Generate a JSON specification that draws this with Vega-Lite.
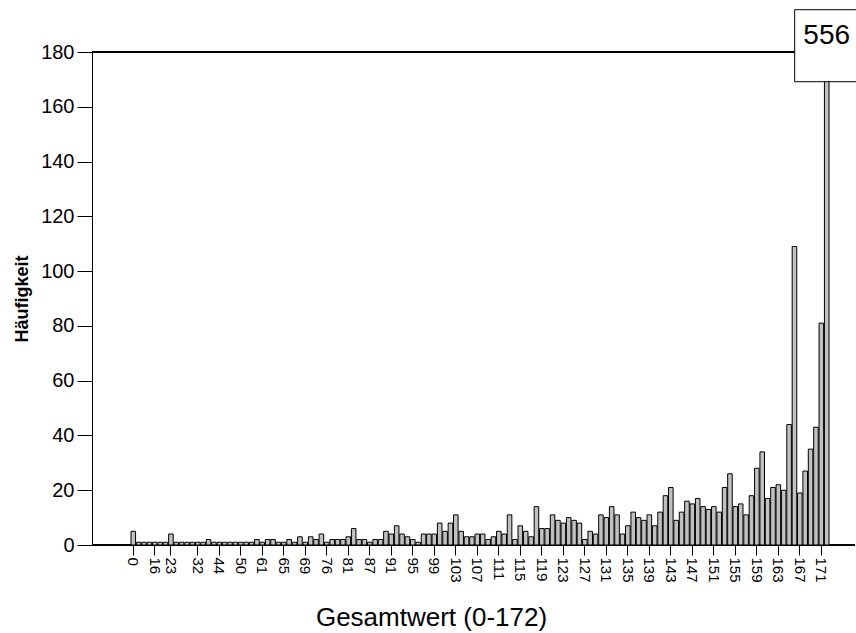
{
  "$schema": "https://vega.github.io/schema/vega-lite/v6.json",
  "width": 763,
  "height": 493,
  "autosize": "none",
  "padding": {"left": 92, "top": 52, "right": 1, "bottom": 88},
  "background": "white",
  "config": {
    "view": {"stroke": null},
    "font": "Liberation Sans",
    "axis": {"domainColor": "black", "tickColor": "black", "labelColor": "black", "titleColor": "black", "grid": false, "labelFont": "Liberation Sans", "titleFont": "Liberation Sans"}
  },
  "data": {
    "values": [
      {"wert": 0, "n": 5}, {"wert": 5, "n": 1}, {"wert": 9, "n": 1}, {"wert": 12, "n": 1},
      {"wert": 16, "n": 1}, {"wert": 19, "n": 1}, {"wert": 21, "n": 1}, {"wert": 23, "n": 4},
      {"wert": 25, "n": 1}, {"wert": 27, "n": 1}, {"wert": 29, "n": 1}, {"wert": 31, "n": 1},
      {"wert": 32, "n": 1}, {"wert": 36, "n": 1}, {"wert": 39, "n": 2}, {"wert": 42, "n": 1},
      {"wert": 44, "n": 1}, {"wert": 46, "n": 1}, {"wert": 47, "n": 1}, {"wert": 49, "n": 1},
      {"wert": 50, "n": 1}, {"wert": 53, "n": 1}, {"wert": 56, "n": 1}, {"wert": 59, "n": 2},
      {"wert": 61, "n": 1}, {"wert": 62, "n": 2}, {"wert": 63, "n": 2}, {"wert": 64, "n": 1},
      {"wert": 65, "n": 1}, {"wert": 66, "n": 2}, {"wert": 67, "n": 1}, {"wert": 68, "n": 3},
      {"wert": 69, "n": 1}, {"wert": 71, "n": 3}, {"wert": 73, "n": 2}, {"wert": 75, "n": 4},
      {"wert": 76, "n": 1}, {"wert": 77, "n": 2}, {"wert": 78, "n": 2}, {"wert": 80, "n": 2},
      {"wert": 81, "n": 3}, {"wert": 82, "n": 6}, {"wert": 84, "n": 2}, {"wert": 86, "n": 2},
      {"wert": 87, "n": 1}, {"wert": 88, "n": 2}, {"wert": 89, "n": 2}, {"wert": 90, "n": 5},
      {"wert": 91, "n": 4}, {"wert": 92, "n": 7}, {"wert": 93, "n": 4}, {"wert": 94, "n": 3},
      {"wert": 95, "n": 2}, {"wert": 96, "n": 1}, {"wert": 97, "n": 4}, {"wert": 98, "n": 4},
      {"wert": 99, "n": 4}, {"wert": 100, "n": 8}, {"wert": 101, "n": 5}, {"wert": 102, "n": 8},
      {"wert": 103, "n": 11}, {"wert": 104, "n": 5}, {"wert": 105, "n": 3}, {"wert": 106, "n": 3},
      {"wert": 107, "n": 4}, {"wert": 108, "n": 4}, {"wert": 109, "n": 2}, {"wert": 110, "n": 3},
      {"wert": 111, "n": 5}, {"wert": 112, "n": 4}, {"wert": 113, "n": 11}, {"wert": 114, "n": 2},
      {"wert": 115, "n": 7}, {"wert": 116, "n": 5}, {"wert": 117, "n": 3}, {"wert": 118, "n": 14},
      {"wert": 119, "n": 6}, {"wert": 120, "n": 6}, {"wert": 121, "n": 11}, {"wert": 122, "n": 9},
      {"wert": 123, "n": 8}, {"wert": 124, "n": 10}, {"wert": 125, "n": 9}, {"wert": 126, "n": 8},
      {"wert": 127, "n": 2}, {"wert": 128, "n": 5}, {"wert": 129, "n": 4}, {"wert": 130, "n": 11},
      {"wert": 131, "n": 10}, {"wert": 132, "n": 14}, {"wert": 133, "n": 11}, {"wert": 134, "n": 4},
      {"wert": 135, "n": 7}, {"wert": 136, "n": 12}, {"wert": 137, "n": 10}, {"wert": 138, "n": 9},
      {"wert": 139, "n": 11}, {"wert": 140, "n": 7}, {"wert": 141, "n": 12}, {"wert": 142, "n": 18},
      {"wert": 143, "n": 21}, {"wert": 144, "n": 9}, {"wert": 145, "n": 12}, {"wert": 146, "n": 16},
      {"wert": 147, "n": 15}, {"wert": 148, "n": 17}, {"wert": 149, "n": 14}, {"wert": 150, "n": 13},
      {"wert": 151, "n": 14}, {"wert": 152, "n": 12}, {"wert": 153, "n": 21}, {"wert": 154, "n": 26},
      {"wert": 155, "n": 14}, {"wert": 156, "n": 15}, {"wert": 157, "n": 11}, {"wert": 158, "n": 18},
      {"wert": 159, "n": 28}, {"wert": 160, "n": 34}, {"wert": 161, "n": 17}, {"wert": 162, "n": 21},
      {"wert": 163, "n": 22}, {"wert": 164, "n": 20}, {"wert": 165, "n": 44}, {"wert": 166, "n": 109},
      {"wert": 167, "n": 19}, {"wert": 168, "n": 27}, {"wert": 169, "n": 35}, {"wert": 170, "n": 43},
      {"wert": 171, "n": 81}, {"wert": 172, "n": 556}
    ]
  },
  "layer": [
    {
      "mark": {"type": "rule", "color": "black", "strokeWidth": 1},
      "encoding": {"y": {"datum": 180, "type": "quantitative"}}
    },
    {
      "mark": {"type": "rule", "color": "black", "strokeWidth": 1},
      "encoding": {"y": {"datum": 0, "type": "quantitative"}}
    },
    {
      "mark": {"type": "bar", "fill": "#c0c0c0", "stroke": "black", "strokeWidth": 1, "clip": true},
      "encoding": {
        "x": {
          "field": "wert",
          "type": "ordinal",
          "scale": {"type": "band", "paddingInner": 0.15, "paddingOuter": 0, "range": [39, 737]},
          "axis": {
            "values": [0, 16, 23, 32, 44, 50, 61, 65, 69, 76, 81, 87, 91, 95, 99, 103, 107, 111, 115, 119, 123, 127, 131, 135, 139, 143, 147, 151, 155, 159, 163, 167, 171],
            "domain": false,
            "labelAngle": 90,
            "labelAlign": "left",
            "labelBaseline": "middle",
            "labelFontSize": 15,
            "labelPadding": 2,
            "tickSize": 10,
            "tickWidth": 1,
            "title": "Gesamtwert (0-172)",
            "titleFontSize": 26,
            "titleFontWeight": "normal",
            "titleX": 339,
            "titleY": 72,
            "titleAlign": "center",
            "titleBaseline": "middle"
          }
        },
        "y": {
          "field": "n",
          "type": "quantitative",
          "scale": {"domain": [0, 180], "nice": false},
          "axis": {
            "values": [0, 20, 40, 60, 80, 100, 120, 140, 160, 180],
            "labelFontSize": 20,
            "labelPadding": 3,
            "tickSize": 15,
            "domainWidth": 1,
            "title": "Häufigkeit",
            "titleFontSize": 18,
            "titleFontWeight": "bold",
            "titlePadding": 9
          }
        }
      }
    },
    {
      "transform": [{"filter": "datum.n > 180"}],
      "mark": {"type": "point", "shape": "M-0.89,-1L0.89,-1L0.89,1L-0.89,1Z", "size": 5184, "filled": true, "fill": "white", "stroke": "black", "strokeWidth": 1, "opacity": 1, "strokeOpacity": 1, "fillOpacity": 1},
      "encoding": {
        "x": {"field": "wert", "type": "ordinal"},
        "y": {"datum": 182.3, "type": "quantitative"}
      }
    },
    {
      "transform": [{"filter": "datum.n > 180"}],
      "mark": {"type": "text", "fontSize": 28, "color": "black", "dy": -10},
      "encoding": {
        "x": {"field": "wert", "type": "ordinal"},
        "y": {"datum": 182.3, "type": "quantitative"},
        "text": {"field": "n"}
      }
    }
  ]
}
